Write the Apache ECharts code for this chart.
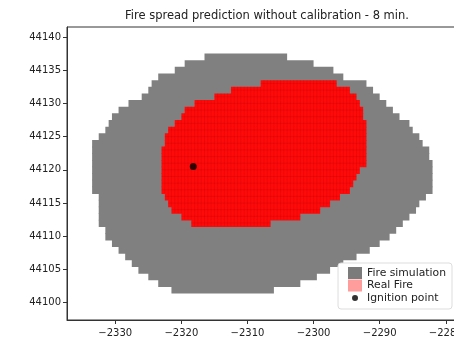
<!DOCTYPE html>
<html>
<head>
<meta charset="utf-8">
<script src="https://cdn.jsdelivr.net/npm/echarts@6/dist/echarts.min.js"></script>
<style>
  html, body { margin: 0; padding: 0; background: #fff; }
  #chart { width: 454px; height: 341px; }
</style>
</head>
<body>
<div id="chart"></div>
<script>
// tick labels
var xTicks = [-2330, -2320, -2310, -2300, -2290, -2280]
var yTicks = [44100, 44105, 44110, 44115, 44120, 44125, 44130, 44135, 44140]

// fire simulation: one row per y cell, left / right edge
var simY = [44137, 44136, 44135, 44134, 44133, 44132, 44131, 44130, 44129, 44128, 44127, 44126,
  44125, 44124, 44123, 44122, 44121, 44120, 44119, 44118, 44117, 44116, 44115, 44114,
  44113, 44112, 44111, 44110, 44109, 44108, 44107, 44106, 44105, 44104, 44103, 44102]
var simX0 = [-2316.5, -2319.5, -2321, -2323.5, -2324.5, -2325, -2326, -2328, -2329.5, -2330.5, -2331, -2331.5,
  -2332.5, -2333.5, -2333.5, -2333.5, -2333.5, -2333.5, -2333.5, -2333.5, -2333.5, -2332.5, -2332.5, -2332.5,
  -2332.5, -2332.5, -2331.5, -2331.5, -2330.5, -2329.5, -2328.5, -2327.5, -2326.5, -2325, -2323.5, -2321.5]
var simX1 = [-2304, -2300, -2297, -2295.5, -2292, -2291, -2290, -2289, -2288, -2287, -2285.5, -2285,
  -2284, -2283.5, -2282.5, -2282.5, -2282, -2282, -2282, -2282, -2282, -2283, -2284, -2284.5,
  -2285.5, -2286.5, -2287.5, -2288.5, -2290, -2291.5, -2293.5, -2295.5, -2297.5, -2299.5, -2302, -2306]

// real fire rows
var fireY = [44133, 44132, 44131, 44130, 44129, 44128, 44127, 44126, 44125, 44124, 44123,
  44122, 44121, 44120, 44119, 44118, 44117, 44116, 44115, 44114, 44113, 44112]
var fireX0 = [-2308, -2312.5, -2315, -2318, -2319.5, -2320, -2321, -2322, -2322.5, -2322.5, -2323,
  -2323, -2323, -2323, -2323, -2323, -2323, -2322.5, -2322, -2321.5, -2320, -2318.5]
var fireX1 = [-2296.5, -2294.5, -2293.5, -2293, -2292.5, -2292.5, -2292, -2292, -2292, -2292, -2292,
  -2292, -2292, -2293, -2293.5, -2294, -2294.5, -2296, -2297.5, -2299, -2302, -2306.5]

var ignition = [[-2318.2, 44120.5]]

function rows (ys, x0s, x1s) {
  return ys.map(function (y, i) { return [y, x0s[i], x1s[i]] })
}

function minus (v) {
  return String(v).replace('-', '\u2212')
}

var meshColor = 'rgba(170,0,0,0.3)'

function rowRender (color, mesh) {
  return function (params, api) {
    var y = api.value(0)
    var x0 = api.value(1)
    var x1 = api.value(2)
    var a = api.coord([x0, y + 0.5])
    var b = api.coord([x1, y - 0.5])
    var children = [{
      type: 'rect',
      shape: { x: a[0], y: a[1], width: b[0] - a[0], height: b[1] - a[1] + 0.8 },
      style: { fill: color }
    }]
    if (mesh) {
      for (var x = x0 + 0.5; x < x1; x += 0.5) {
        var p = api.coord([x, y])
        children.push({
          type: 'line',
          shape: { x1: p[0], y1: a[1], x2: p[0], y2: b[1] },
          style: { stroke: meshColor, lineWidth: 0.7 }
        })
      }
      var m = api.coord([x0, y])
      children.push({
        type: 'line',
        shape: { x1: a[0], y1: m[1], x2: b[0], y2: m[1] },
        style: { stroke: meshColor, lineWidth: 0.7 }
      })
    }
    return { type: 'group', children: children }
  }
}

var dotIcon = 'image://data:image/svg+xml;utf8,' + encodeURIComponent(
  '<svg xmlns="http://www.w3.org/2000/svg" width="14" height="12" viewBox="0 0 14 12">' +
  '<circle cx="7" cy="6" r="3" fill="#000"/></svg>')

var chart = echarts.init(document.getElementById('chart'))
chart.setOption({
  animation: false,
  textStyle: { fontFamily: 'DejaVu Sans' },
  title: {
    text: 'Fire spread prediction without calibration - 8 min.',
    left: 262,
    textAlign: 'center',
    top: 5,
    textStyle: { fontSize: 11.5, fontWeight: 'normal', color: '#222', fontFamily: 'DejaVu Sans' }
  },
  grid: {
    left: 67, right: -5, top: 27, bottom: 21,
    outerBoundsMode: 'none',
    containLabel: false,
    show: true, borderColor: '#333', borderWidth: 1, backgroundColor: '#fff'
  },
  legend: {
    orient: 'vertical',
    right: 2,
    bottom: 32,
    backgroundColor: '#fff',
    borderColor: '#ddd',
    borderWidth: 1,
    borderRadius: 3,
    padding: [4, 6, 5, 10],
    itemWidth: 14,
    itemHeight: 12,
    itemGap: 0.5,
    textStyle: { fontSize: 10.8, color: '#222', fontFamily: 'DejaVu Sans' },
    data: [
      { name: 'Fire simulation', icon: 'rect', itemStyle: { color: '#7b7b7b' } },
      { name: 'Real Fire', icon: 'rect', itemStyle: { color: '#ff9c9c' } },
      { name: 'Ignition point', icon: dotIcon }
    ]
  },
  xAxis: {
    type: 'value',
    min: -2337.3,
    max: -2278,
    splitLine: { show: false },
    axisLine: { show: true, onZero: false, lineStyle: { color: '#333' } },
    axisTick: { show: true, length: 4, customValues: xTicks, lineStyle: { color: '#333' } },
    axisLabel: { customValues: xTicks, fontSize: 10, color: '#222', margin: 8, formatter: minus }
  },
  yAxis: {
    type: 'value',
    min: 44097.4,
    max: 44141.5,
    splitLine: { show: false },
    axisLine: { show: true, onZero: false, lineStyle: { color: '#333' } },
    axisTick: { show: true, length: 4, customValues: yTicks, lineStyle: { color: '#333' } },
    axisLabel: { customValues: yTicks, fontSize: 10, color: '#222', margin: 6, formatter: function (v) { return String(v) } }
  },
  series: [
    {
      name: 'Fire simulation',
      type: 'custom',
      itemStyle: { color: '#7b7b7b' },
      encode: { x: [1, 2], y: 0 },
      renderItem: rowRender('#808080', false),
      data: rows(simY, simX0, simX1)
    },
    {
      name: 'Real Fire',
      type: 'custom',
      itemStyle: { color: '#ff9c9c' },
      encode: { x: [1, 2], y: 0 },
      renderItem: rowRender('#ff0a0a', true),
      data: rows(fireY, fireX0, fireX1)
    },
    {
      name: 'Ignition point',
      type: 'scatter',
      symbolSize: 7,
      itemStyle: { color: '#000' },
      data: ignition
    }
  ]
})
</script>
</body>
</html>
